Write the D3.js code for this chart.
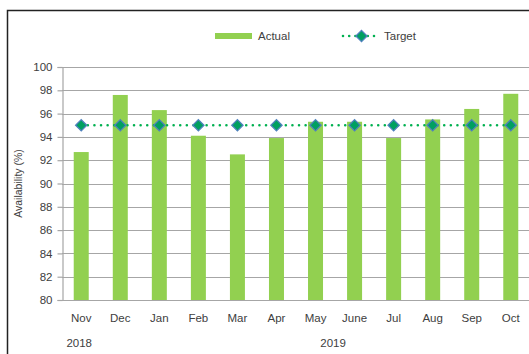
<!DOCTYPE html>
<html>
<head>
<meta charset="utf-8">
<script src="https://cdn.jsdelivr.net/npm/d3@7"></script>
<style>
  html, body { margin: 0; padding: 0; background: #fff; }
  svg { display: block; }
  text { font-family: "Liberation Sans", Arial, sans-serif; fill: #404040; }
</style>
</head>
<body>
<svg id="chart" width="529" height="354"></svg>
<script>
// Monthly availability, Nov 2018 – Oct 2019
const months = ["Nov", "Dec", "Jan", "Feb", "Mar", "Apr", "May", "June", "Jul", "Aug", "Sep", "Oct"];
const actual = [92.7, 97.6, 96.3, 94.1, 92.5, 93.9, 95.3, 95.3, 93.9, 95.5, 96.4, 97.7];
const target = [95, 95, 95, 95, 95, 95, 95, 95, 95, 95, 95, 95];
const yTicks = [80, 82, 84, 86, 88, 90, 92, 94, 96, 98, 100];
const years = [
  { label: "2018", from: "Nov", to: "Nov" },
  { label: "2019", from: "Jan", to: "Oct" }
];

const svg = d3.select("#chart");
const margin = { left: 62, top: 67, right: 0, bottom: 54 };
const W = 529, H = 354;
const plotRight = 530;
const plotBottom = 300;

const x = d3.scaleBand().domain(months).range([margin.left, plotRight]).paddingInner(0.615).paddingOuter(0.3);
const y = d3.scaleLinear().domain([80, 100]).range([plotBottom, margin.top]);

// outer frame
svg.append("rect")
  .attr("x", 7.5).attr("y", 10.5)
  .attr("width", W + 10).attr("height", H + 10)
  .attr("fill", "none").attr("stroke", "#222").attr("stroke-width", 1.5);

// horizontal gridlines
svg.append("g").selectAll("line").data(yTicks).join("line")
  .attr("x1", margin.left).attr("x2", W)
  .attr("y1", d => Math.round(y(d)) + 0.5).attr("y2", d => Math.round(y(d)) + 0.5)
  .attr("stroke", "#a6a6a6").attr("stroke-width", 1.2);

// y axis
const yAxis = svg.append("g")
  .attr("transform", `translate(${margin.left + 0.5},0)`)
  .call(d3.axisLeft(y).tickValues(yTicks).tickSize(5).tickPadding(5).tickFormat(d3.format("d")));
yAxis.select(".domain").attr("stroke", "#a6a6a6").attr("stroke-width", 1.2);
yAxis.selectAll(".tick line").attr("stroke", "#a6a6a6").attr("stroke-width", 1.2);
yAxis.selectAll(".tick text").attr("font-size", 11.5).attr("fill", "#404040")
  .style("font-family", "'Liberation Sans', Arial, sans-serif");

// axis title
svg.append("text")
  .attr("transform", `translate(22,${(y(80) + y(100)) / 2}) rotate(-90)`)
  .attr("text-anchor", "middle")
  .attr("font-size", 10.5)
  .text("Availability (%)");

// bars
const barW = 15;
svg.append("g").selectAll("rect").data(months).join("rect")
  .attr("x", d => x(d) + x.bandwidth() / 2 - barW / 2)
  .attr("y", (d, i) => y(actual[i]))
  .attr("width", barW)
  .attr("height", (d, i) => y(80) - y(actual[i]))
  .attr("fill", "#92d050");

// target dotted line
const cx = d => x(d) + x.bandwidth() / 2;
const line = d3.line().x((d, i) => cx(months[i])).y(d => y(d));
svg.append("path")
  .datum(target)
  .attr("d", line)
  .attr("fill", "none")
  .attr("stroke", "#00b050")
  .attr("stroke-width", 2.6)
  .attr("stroke-linecap", "round")
  .attr("stroke-dasharray", "0,6.6");

// target markers
const dia = 5.6;
const diamond = `M0,${-dia}L${dia},0L0,${dia}L${-dia},0Z`;
svg.append("g").selectAll("path").data(target).join("path")
  .attr("transform", (d, i) => `translate(${cx(months[i])},${y(d)})`)
  .attr("d", diamond)
  .attr("fill", "#00a060")
  .attr("stroke", "#4f81bd")
  .attr("stroke-width", 1.3);

// bottom axis line
svg.append("line")
  .attr("x1", margin.left).attr("x2", W)
  .attr("y1", plotBottom + 0.5).attr("y2", plotBottom + 0.5)
  .attr("stroke", "#a6a6a6").attr("stroke-width", 1.2);

// month labels
svg.append("g").selectAll("text").data(months).join("text")
  .attr("x", d => cx(d))
  .attr("y", 322)
  .attr("text-anchor", "middle")
  .attr("font-size", 11.5)
  .text(d => d);

// year labels
svg.append("g").selectAll("text").data(years).join("text")
  .attr("x", d => (cx(d.from) + cx(d.to)) / 2 - 2)
  .attr("y", 347)
  .attr("text-anchor", "middle")
  .attr("font-size", 11.5)
  .text(d => d.label);

// legend
const lg = svg.append("g");
lg.append("rect").attr("x", 215).attr("y", 33).attr("width", 37).attr("height", 6).attr("fill", "#92d050");
lg.append("text").attr("x", 258).attr("y", 40).attr("font-size", 11.5).text("Actual");
lg.append("line")
  .attr("x1", 343).attr("x2", 380).attr("y1", 36).attr("y2", 36)
  .attr("stroke", "#00b050").attr("stroke-width", 2.6)
  .attr("stroke-linecap", "round").attr("stroke-dasharray", "0,6.2");
lg.append("path").attr("transform", "translate(361.5,36)").attr("d", diamond)
  .attr("fill", "#00a060").attr("stroke", "#4f81bd").attr("stroke-width", 1.3);
lg.append("text").attr("x", 384).attr("y", 40).attr("font-size", 11.5).text("Target");
</script>
</body>
</html>
